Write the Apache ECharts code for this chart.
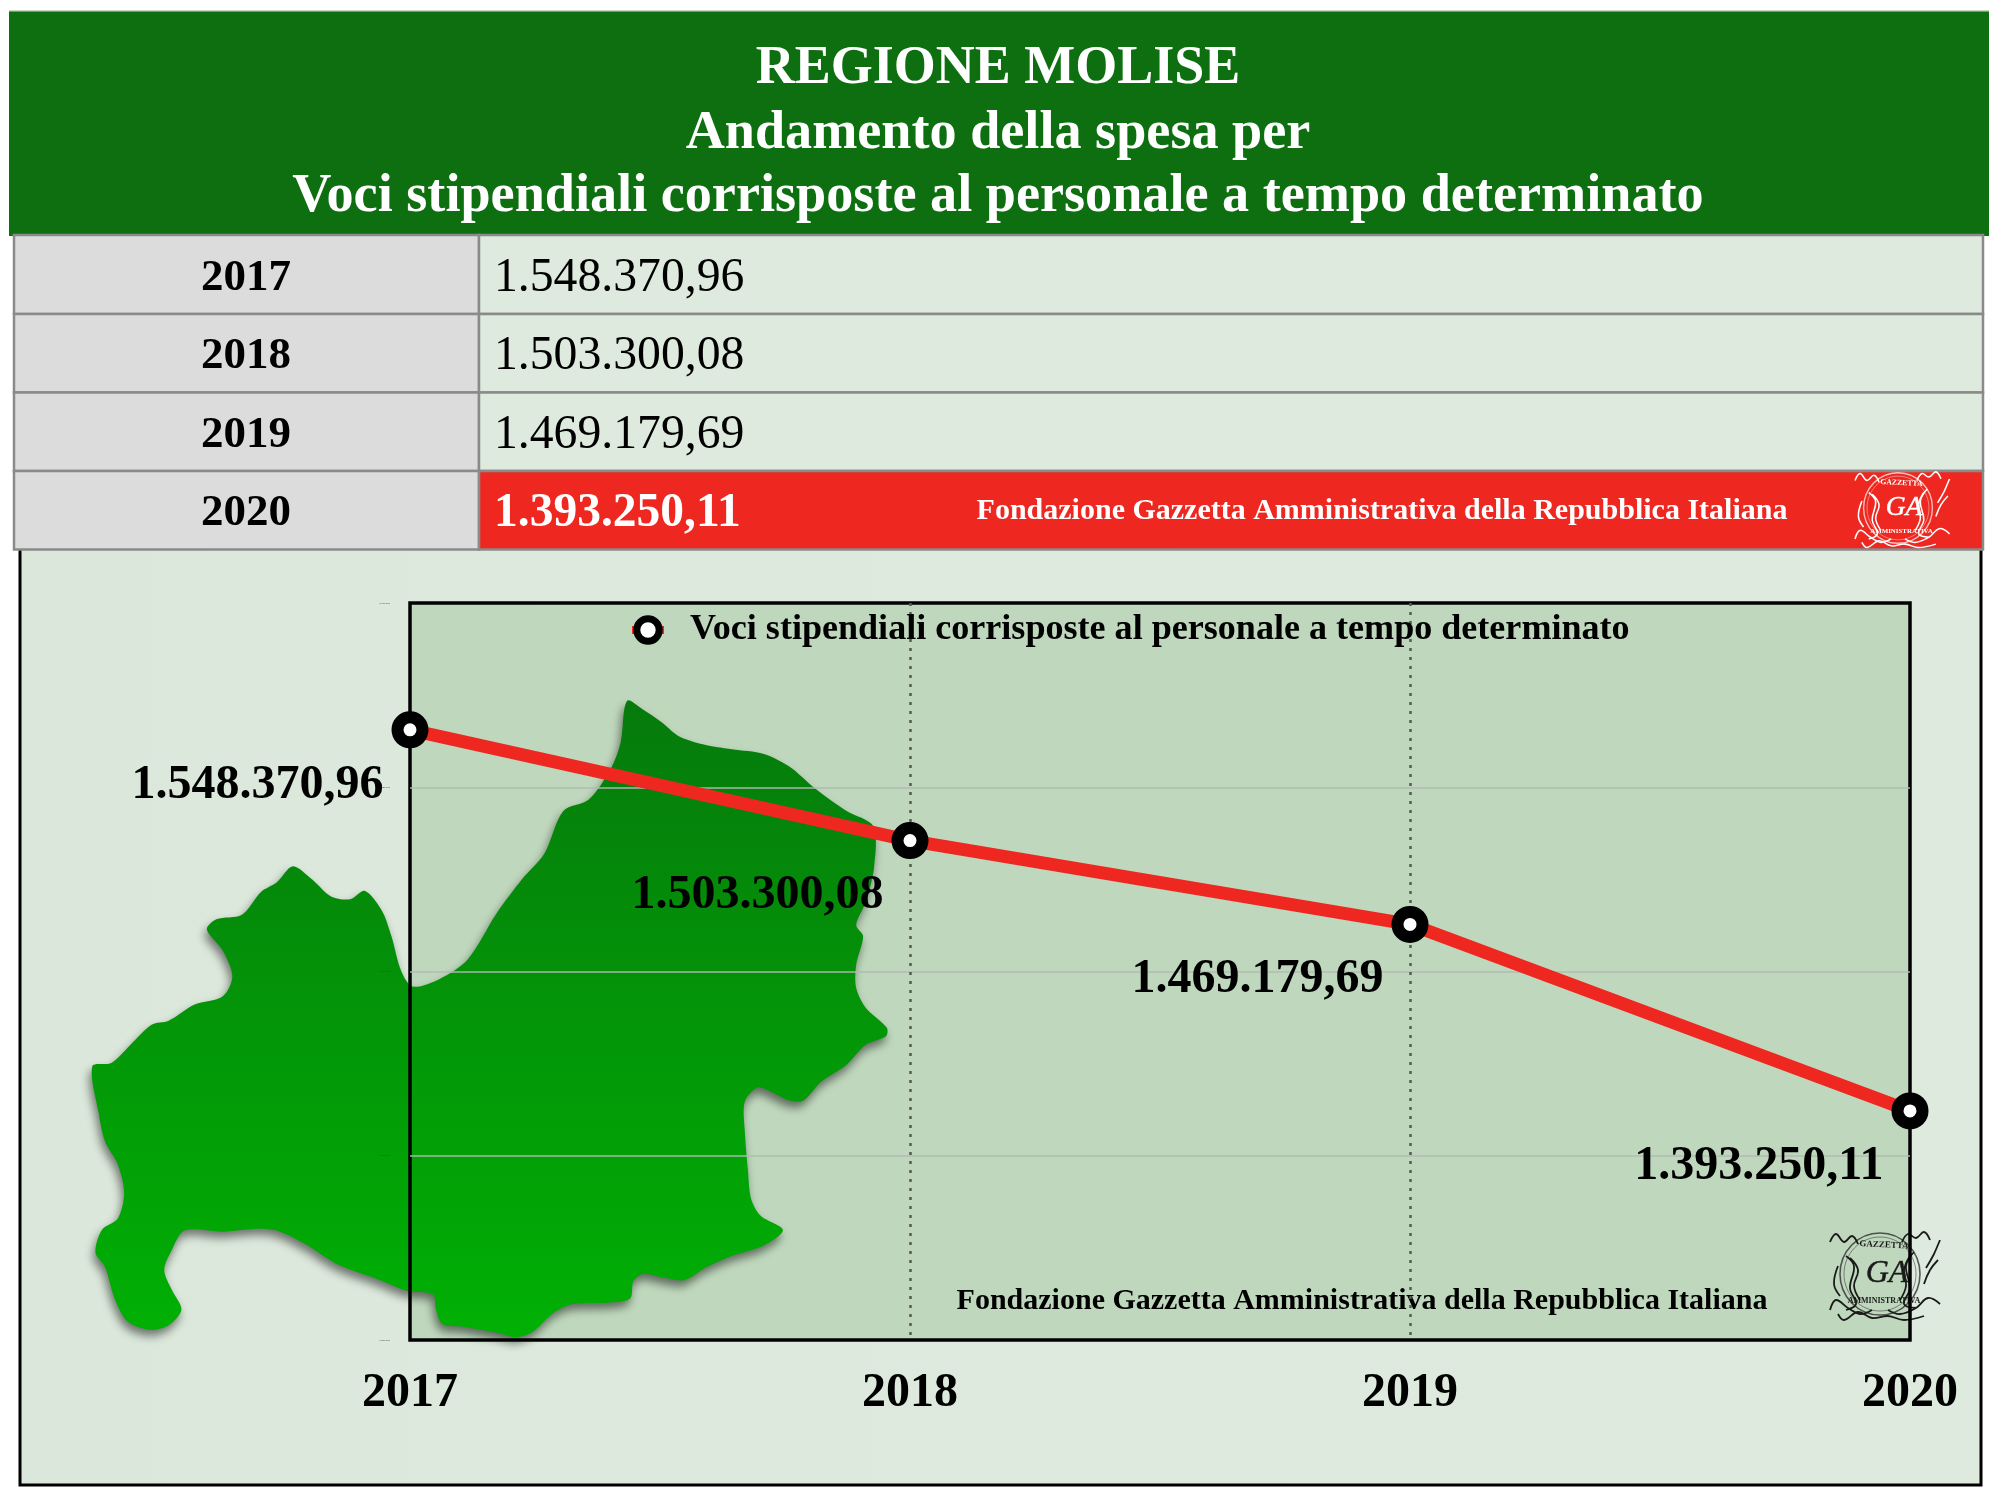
<!DOCTYPE html>
<html><head><meta charset="utf-8">
<style>html,body{margin:0;padding:0;background:#fff}#c{width:1996px;height:1494px}</style>
<script src="https://cdn.jsdelivr.net/npm/echarts@6/dist/echarts.min.js"></script>
</head><body><div id="c"></div>
<script>
const years = ['2017','2018','2019','2020'];
const values = [1548370.96,1503300.08,1469179.69,1393250.11];
const yTicks = {min:1300000,max:1600000,step:75000};
const seriesName = 'Voci stipendiali corrisposte al personale a tempo determinato';
const titleLines = ['REGIONE MOLISE','Andamento della spesa per','Voci stipendiali corrisposte al personale a tempo determinato'];
const foundation = 'Fondazione Gazzetta Amministrativa della Repubblica Italiana';
const SERIF = '"Liberation Serif","Times New Roman",serif';
function fmt(v){
  const [i,d]=v.toFixed(2).split('.');
  return i.replace(/\B(?=(\d{3})+$)/g,'.')+','+d;
}
function fmtInt(v){return String(Math.round(v)).replace(/\B(?=(\d{3})+$)/g,'.');}
// decorative outline of the region
const regionOutline=[[985,177],[1010,192],[1040,215],[1065,238],[1100,252],[1150,262],[1200,270],[1240,292],[1280,330],[1330,370],[1372,397],[1373,470],[1360,530],[1345,570],[1356,590],[1345,640],[1345,680],[1360,715],[1393,750],[1392,765],[1360,780],[1330,815],[1290,845],[1262,878],[1240,878],[1210,862],[1190,855],[1170,880],[1170,930],[1175,1000],[1180,1050],[1195,1080],[1230,1105],[1200,1132],[1150,1150],[1110,1170],[1075,1193],[1040,1188],[1010,1182],[995,1195],[990,1225],[960,1232],[900,1235],[870,1250],[835,1285],[810,1293],[780,1285],[730,1275],[695,1270],[685,1245],[680,1218],[640,1212],[590,1190],[530,1165],[480,1130],[440,1108],[410,1103],[350,1108],[290,1106],[270,1140],[258,1175],[270,1210],[285,1245],[265,1272],[235,1280],[200,1265],[180,1225],[165,1170],[150,1145],[160,1105],[185,1085],[195,1040],[185,990],[165,950],[155,900],[145,818],[175,812],[205,780],[238,745],[265,738],[305,710],[350,695],[365,660],[350,615],[325,578],[340,560],[380,552],[410,512],[435,495],[460,467],[490,490],[520,520],[550,525],[573,510],[600,545],[615,590],[630,650],[648,678],[690,665],[735,630],[780,550],[820,490],[855,445],[885,370],[925,350],[960,295],[975,250]];
const regionPts=regionOutline.map(p=>[p[0]/1.571,600+p[1]/1.754]);

const G=[];
function rect(x,y,w,h,fill,extra){G.push(Object.assign({type:'rect',shape:{x,y,width:w,height:h},style:{fill},silent:true},extra||{}));}
function text(t,x,y,size,fill,opts){opts=opts||{};G.push({type:'text',x,y,silent:true,style:{text:t,fill,font:(opts.style||'normal')+' '+(opts.weight||'bold')+' '+size+'px '+SERIF,textAlign:opts.align||'center',textVerticalAlign:'middle'}});}

// panel
rect(20,545,1961,940,{type:'linear',x:0,y:0,x2:1,y2:0,colorStops:[{offset:0,color:'#dae7da'},{offset:.3,color:'#dde9dc'},{offset:1,color:'#deeadd'}]},{});
G[G.length-1].style.stroke='#000';G[G.length-1].style.lineWidth=3;
// header
rect(9,11,1980,225,'#0e6f11');
rect(9,10,1980,1.5,'#c9d6c8');
text(titleLines[0],998,69,54,'#fff');
text(titleLines[1],998,134,54.2,'#fff');
text(titleLines[2],998,197,54.2,'#fff');
// table
const rowY=[235,314,392.5,471,549.5];
const colL=14,colM=479,colR=1983;
years.forEach((y,i)=>{
  const t=rowY[i],h=rowY[i+1]-rowY[i];
  rect(colL,t,colM-colL,h,'#dcdcdc',{});
  G[G.length-1].style.stroke='#8a8a8a';G[G.length-1].style.lineWidth=2.5;
  rect(colM,t,colR-colM,h,i===3?'#ee2820':'#deeadd',{});
  G[G.length-1].style.stroke='#8a8a8a';G[G.length-1].style.lineWidth=2.5;
  text(y,246,t+h/2+3.5,45,'#000');
  text(fmt(values[i]),494,t+h/2+3.5,i===3?47.5:47.7,i===3?'#fff':'#000',{align:'left',weight:i===3?'bold':'normal'});
});
text(foundation,1382,511.5,30,'#fff');
// plot backdrop
rect(410,602,1500,738,'#bfd8bd');
// region
G.push({type:'polygon',silent:true,shape:{points:regionPts,smooth:0.3},style:{
  fill:{type:'linear',x:0,y:0,x2:0,y2:1,colorStops:[{offset:0,color:'#067a0c'},{offset:1,color:'#00b004'}]},
  shadowBlur:10,shadowColor:'rgba(0,0,0,0.5)',shadowOffsetX:-2,shadowOffsetY:6}});
text(foundation,1362,1301.5,30,'#000');
// logo
function logo(cx,cy,s,col){
  const ch=[];
  const st={stroke:col,fill:'none',lineWidth:1.6};
  ch.push({type:'ellipse',shape:{cx:0,cy:0,rx:40,ry:41},style:Object.assign({},st,{opacity:.7})});
  ch.push({type:'ellipse',shape:{cx:0,cy:0,rx:36,ry:37},style:Object.assign({},st,{lineWidth:.8,opacity:.6})});
  const orn=[
   [[-50,-32],[-44,-40],[-36,-32],[-28,-38],[-22,-30]],[[50,-34],[44,-42],[36,-36],[28,-40],[22,-32]],
   [[-34,-18],[-26,-8],[-30,14],[-24,30],[-34,36]],[[34,-22],[26,-8],[30,14],[24,30],[36,34]],
   [[-30,-16],[-22,-4],[-26,12],[-20,26]],[[30,-18],[24,-4],[26,12],[20,26]],
   [[-50,36],[-44,26],[-32,34],[-20,40],[-8,36]],[[60,30],[48,24],[36,34],[20,40],[8,36]],
   [[-42,40],[-36,46],[-22,38],[-8,44],[8,42],[24,46],[44,42]],
   [[-42,-8],[-46,10],[-40,22]],[[46,-6],[54,-20],[60,-34]],[[44,10],[50,-4],[58,-14]]];
  orn.forEach(p=>ch.push({type:'polyline',shape:{points:p,smooth:.4},style:Object.assign({},st,{lineWidth:1.8})}));
  ch.push({type:'text',x:7,y:0,style:{text:'GA',fill:col,stroke:col,lineWidth:.5,font:'italic normal 32px '+SERIF,textAlign:'center',textVerticalAlign:'middle'}});
  ch.push({type:'text',x:4,y:-29,rotation:-0.05,style:{text:'GAZZETTA',fill:col,font:'bold 9px '+SERIF,textAlign:'center',textVerticalAlign:'middle'}});
  ch.push({type:'text',x:4,y:27,style:{text:'AMMINISTRATIVA',fill:col,font:'bold 8px '+SERIF,textAlign:'center',textVerticalAlign:'middle'}});
  G.push({type:'group',x:cx,y:cy,scaleX:s,scaleY:s,silent:true,children:ch});
}
logo(1880,1274,1,'#1a1a1a');
logo(1898,508,.86,'#fff');

const chart=echarts.init(document.getElementById('c'),null,{renderer:'canvas'});
chart.setOption({
  animation:false,
  backgroundColor:'#fff',
  textStyle:{fontFamily:SERIF},
  graphic:{elements:G},
  legend:{show:true,left:623,top:607,itemWidth:32,itemHeight:28,z:20,
    itemStyle:{color:'#fff',borderColor:'#000',borderWidth:7},
    lineStyle:{color:'#ee2820',width:8},
    textStyle:{fontFamily:SERIF,fontWeight:'bold',fontSize:36.1,color:'#000',padding:[0,0,0,21]},data:[seriesName]},
  grid:{show:true,left:410,top:603,width:1500,height:737,backgroundColor:'transparent',borderColor:'#000',borderWidth:3.5,z:5},
  xAxis:{type:'category',data:years,boundaryGap:false,z:6,
    axisLine:{show:false},axisTick:{show:false},
    axisLabel:{fontFamily:SERIF,fontWeight:'bold',fontSize:48,color:'#000',margin:30,showMinLabel:true,showMaxLabel:true,hideOverlap:false},
    splitLine:{show:true,showMinLine:false,showMaxLine:false,lineStyle:{color:'#555a55',type:[3,6],width:2.5}}},
  yAxis:{type:'value',min:yTicks.min,max:yTicks.max,interval:yTicks.step,z:6,
    axisLine:{show:false},axisTick:{show:false},
    axisLabel:{fontFamily:'"Liberation Sans"',fontSize:2.4,color:'#444',margin:20,formatter:fmtInt},
    splitLine:{show:true,showMinLine:false,showMaxLine:false,lineStyle:{color:'rgba(178,184,178,0.95)',width:1.5}}},
  series:[{name:seriesName,type:'line',data:values,z:10,clip:false,smooth:false,
    lineStyle:{color:'#ee2820',width:13},
    symbol:'circle',symbolSize:25,
    itemStyle:{color:'#fff',borderColor:'#000',borderWidth:12},
    label:{show:true,position:[-8,74],align:'right',verticalAlign:'middle',fontFamily:SERIF,fontWeight:'bold',fontSize:48,color:'#000',
      formatter:p=>fmt(p.value)}}]
});
</script></body></html>
